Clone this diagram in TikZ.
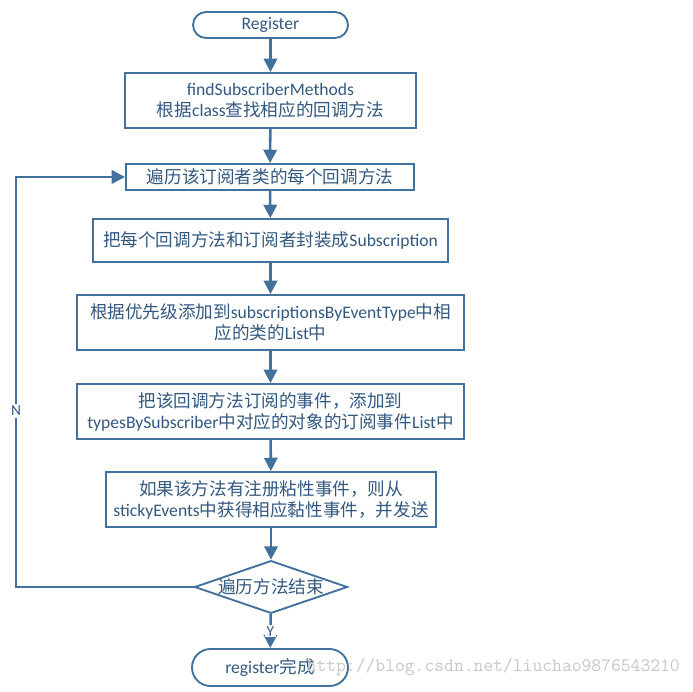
\documentclass[tikz,border=0pt]{standalone}
\usepackage{fontspec}
\setmainfont{Noto Sans CJK SC}
\newfontfamily\latinfont{Carlito}
\newcommand{\en}[1]{{\latinfont #1}}
\usetikzlibrary{shapes.misc}
\usetikzlibrary{shapes.geometric}
\usetikzlibrary{arrows.meta}
\definecolor{flowline}{RGB}{65,113,156}
\definecolor{flowtext}{RGB}{50,88,128}

\begin{document}
\begin{tikzpicture}[x=0.75pt, y=-0.75pt,
    every node/.style={text=flowtext, font=\fontsize{13.2}{15.75}\selectfont},
    procbox/.style={draw=flowline, line width=1.4pt, rectangle, align=center, inner sep=0pt},
    termbox/.style={draw=flowline, line width=1.4pt, rounded rectangle, inner sep=0pt},
    flow/.style={draw=flowline, line width=1.9pt, -{Triangle[width=10pt,length=10pt]}}]
    \useasboundingbox (0,0) rectangle (693,692);

    % Start
    \node[termbox, minimum width=116.25pt, minimum height=19.5pt] (reg) at (270.5,25) {\en{Register}};

    % Find subscriber methods
    \node[procbox, minimum width=218.25pt, minimum height=41.25pt] (find) at (270.5,100.5)
        {\en{findSubscriberMethods}\\根据\en{class}查找相应的回调方法};

    % Loop over methods
    \node[procbox, minimum width=216pt, minimum height=19.5pt] (loop) at (270,177)
        {遍历该订阅者类的每个回调方法};

    % Wrap into Subscription
    \node[procbox, minimum width=266.25pt, minimum height=32.25pt] (wrap) at (270.5,240.5)
        {把每个回调方法和订阅者封装成\en{Subscription}};

    % Add by priority
    \node[procbox, minimum width=290.25pt, minimum height=41.25pt] (prio) at (270.5,322.5)
        {根据优先级添加到\en{subscriptionsByEventType}中相\\应的类的\en{List}中};

    % Add event types
    \node[procbox, minimum width=290.25pt, minimum height=41.25pt] (types) at (270.5,411.5)
        {把该回调方法订阅的事件，添加到\\\en{typesBySubscriber}中对应的对象的订阅事件\en{List}中};

    % Sticky events
    \node[procbox, minimum width=247.5pt, minimum height=41.25pt] (sticky) at (271,499.5)
        {如果该方法有注册粘性事件，则从\\\en{stickyEvents}中获得相应黏性事件，并发送};

    % Decision
    \node[draw=flowline, line width=1.4pt, diamond, aspect=2.9, inner sep=0pt] (done) at (271,587)
        {遍历方法结束};

    % End
    \node[termbox, minimum width=117pt, minimum height=27.75pt] (fin) at (270,667.5)
        {\en{register}完成};

    % Watermark
    \node[anchor=west, text=black!22, font=\ttfamily\fontsize{14.3}{16}\selectfont] (mark) at (302,667)
        {http://blog.csdn.net/liuchao9876543210};

    % Connectors
    \draw[flow] (reg) -- (find);
    \draw[flow] (find) -- (loop);
    \draw[flow] (loop) -- (wrap);
    \draw[flow] (wrap) -- (prio);
    \draw[flow] (prio) -- (types);
    \draw[flow] (types) -- (sticky);
    \draw[flow] (sticky) -- (done);
    \draw[flow] (done) -- node[fill=white, inner sep=1pt, font=\latinfont\fontsize{11.5}{12}\selectfont] (yes) {Y} (fin);

    % Back loop
    \coordinate (back) at (16,587);
    \draw[flow] (done.west) -- (back)
        -- node[pos=0.43, fill=white, inner sep=1.5pt, font=\latinfont\fontsize{11.5}{12}\selectfont] (no) {N} (back |- loop.west)
        -- (loop.west);
\end{tikzpicture}
\end{document}
